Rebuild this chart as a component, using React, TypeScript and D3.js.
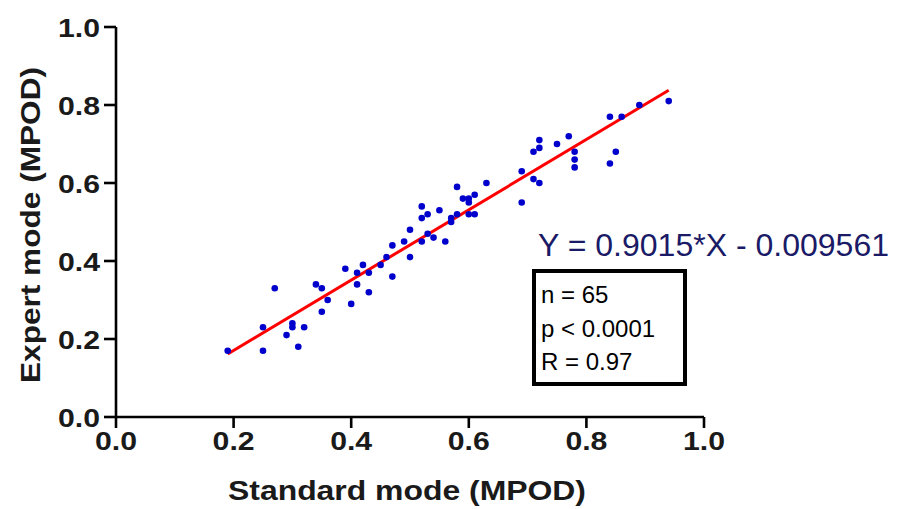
import React from "react";
import * as d3 from "d3";

const xVals = [
  0.19, 0.25, 0.25, 0.27, 0.29, 0.30, 0.30, 0.31, 0.32, 0.34, 0.35, 0.36, 0.35,
  0.39, 0.40, 0.41, 0.41, 0.42, 0.43, 0.43, 0.45, 0.46, 0.47, 0.47, 0.49, 0.50,
  0.50, 0.52, 0.53, 0.54, 0.52, 0.52, 0.53, 0.55, 0.56, 0.57, 0.57, 0.58, 0.58,
  0.59, 0.60, 0.60, 0.60, 0.61, 0.61, 0.63, 0.69, 0.69, 0.71, 0.71, 0.72, 0.72,
  0.72, 0.75, 0.77, 0.78, 0.78, 0.78, 0.84, 0.84, 0.85, 0.86, 0.89, 0.94,
];
const yVals = [
  0.17, 0.17, 0.23, 0.33, 0.21, 0.24, 0.23, 0.18, 0.23, 0.34, 0.33, 0.30, 0.27,
  0.38, 0.29, 0.37, 0.34, 0.39, 0.37, 0.32, 0.39, 0.41, 0.44, 0.36, 0.45, 0.48,
  0.41, 0.45, 0.47, 0.46, 0.54, 0.51, 0.52, 0.53, 0.45, 0.51, 0.50, 0.59, 0.52,
  0.56, 0.56, 0.55, 0.52, 0.57, 0.52, 0.60, 0.55, 0.63, 0.68, 0.61, 0.71, 0.69,
  0.60, 0.70, 0.72, 0.68, 0.66, 0.64, 0.77, 0.65, 0.68, 0.77, 0.80, 0.81,
];
const xTicks = [0, 0.2, 0.4, 0.6, 0.8, 1.0];
const yTicks = [0, 0.2, 0.4, 0.6, 0.8, 1.0];
const slope = 0.9015;
const intercept = -0.009561;
const statLines = ["n = 65", "p < 0.0001", "R = 0.97"];
const equation = "Y = 0.9015*X - 0.009561";
const xTitle = "Standard mode (MPOD)";
const yTitle = "Expert mode (MPOD)";

export default function App() {
  const W = 898, H = 509;
  const x = d3.scaleLinear().domain([0, 1]).range([116, 704]);
  const y = d3.scaleLinear().domain([0, 1]).range([417, 27]);
  const [xmin, xmax] = d3.extent(xVals) as [number, number];
  const line = d3.line<number>().x((d) => x(d)).y((d) => y(slope * d + intercept));
  const pts = d3.zip(xVals, yVals);
  const font = "'Liberation Sans', Arial, sans-serif";
  return (
    <svg width={W} height={H} style={{ position: "absolute", left: 0, top: 0, background: "#fff" }}>
      {/* axes */}
      <line x1={x(0)} x2={x(1)} y1={y(0)} y2={y(0)} stroke="#000" strokeWidth={2.6} />
      <line x1={x(0)} x2={x(0)} y1={y(0)} y2={y(1)} stroke="#000" strokeWidth={2.6} />
      {yTicks.map((t) => (
        <g key={"y" + t}>
          <line x1={x(0) - 12} x2={x(0)} y1={y(t)} y2={y(t)} stroke="#000" strokeWidth={2.6} />
          <text x={100} y={y(t) + 9.5} textAnchor="end" fontFamily={font} fontWeight="bold" fontSize={26} fill="#1a1a1a" textLength={42} lengthAdjust="spacingAndGlyphs">
            {t.toFixed(1)}
          </text>
        </g>
      ))}
      {xTicks.map((t) => (
        <g key={"x" + t}>
          <line x1={x(t)} x2={x(t)} y1={y(0)} y2={y(0) + 11} stroke="#000" strokeWidth={2.6} />
          <text x={x(t)} y={450} textAnchor="middle" fontFamily={font} fontWeight="bold" fontSize={26} fill="#1a1a1a" textLength={42} lengthAdjust="spacingAndGlyphs">
            {t.toFixed(1)}
          </text>
        </g>
      ))}
      <text x={407} y={500} textAnchor="middle" fontFamily={font} fontWeight="bold" fontSize={27} fill="#1a1a1a" textLength={358} lengthAdjust="spacingAndGlyphs">
        {xTitle}
      </text>
      <text transform={`translate(40,225) rotate(-90)`} textAnchor="middle" fontFamily={font} fontWeight="bold" fontSize={27} fill="#1a1a1a" textLength={316} lengthAdjust="spacingAndGlyphs">
        {yTitle}
      </text>
      {/* regression line */}
      <path d={line([xmin, xmax]) || ""} stroke="#ff0000" strokeWidth={3} fill="none" />
      {/* points */}
      {pts.map(([a, b], i) => (
        <circle key={i} cx={x(a)} cy={y(b)} r={3.3} fill="#0000cc" />
      ))}
      {/* equation */}
      <text x={538} y={256} fontFamily={font} fontSize={31} fill="#1a1a66" textLength={351} lengthAdjust="spacingAndGlyphs">
        {equation}
      </text>
      <rect x={534} y={271} width={151} height={113} fill="#fff" stroke="#000" strokeWidth={4} />
      {statLines.map((s, i) => (
        <text key={s} x={541} y={303 + i * 33.5} fontFamily={font} fontSize={24} fill="#000">
          {s}
        </text>
      ))}
    </svg>
  );
}
